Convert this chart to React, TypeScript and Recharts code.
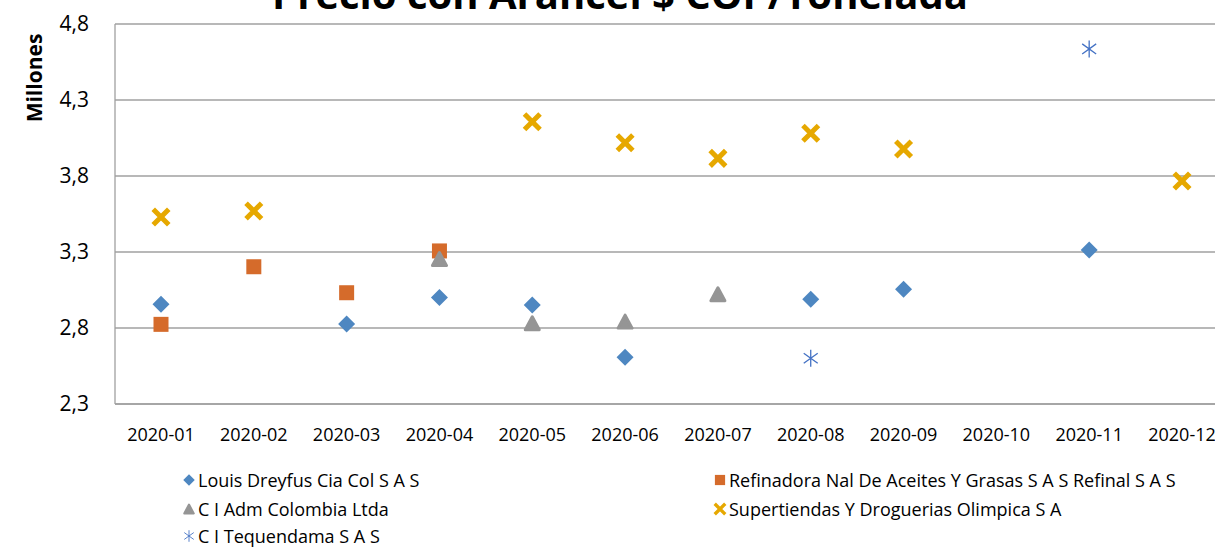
import React from 'react';
import { CartesianGrid, ComposedChart, Legend, Line, XAxis, YAxis } from 'recharts';

// valores en millones de COP por tonelada
const months = [
  '2020-01', '2020-02', '2020-03', '2020-04', '2020-05', '2020-06',
  '2020-07', '2020-08', '2020-09', '2020-10', '2020-11', '2020-12',
];
const louisDreyfus = [2.956, null, 2.826, 3.0, 2.951, 2.607, null, 2.989, 3.055, null, 3.313, null];
const refinal = [2.824, 3.203, 3.032, 3.307, null, null, null, null, null, null, null, null];
const ciAdm = [null, null, null, 3.254, 2.831, 2.842, 3.022, null, null, null, null, null];
const supertiendas = [3.53, 3.57, null, null, 4.157, 4.019, 3.916, 4.081, 3.978, null, null, 3.767];
const tequendama = [null, null, null, null, null, null, null, 2.601, null, null, 4.636, null];
const yTicks = [2.3, 2.8, 3.3, 3.8, 4.3, 4.8];

const data = months.map((month, i) => ({
  month,
  louis: louisDreyfus[i],
  refinal: refinal[i],
  adm: ciAdm[i],
  olimpica: supertiendas[i],
  tequendama: tequendama[i],
}));

const FONT = '"Open Sans", "Noto Sans", sans-serif';

type Kind = 'diamond' | 'square' | 'triangle' | 'cross' | 'star';

function Marker({ kind, cx, cy, s = 1 }: { kind: Kind; cx: number; cy: number; s?: number }) {
  if (kind === 'diamond') {
    const r = 8.5 * s;
    return <path d={`M${cx},${cy - r}L${cx + r},${cy}L${cx},${cy + r}L${cx - r},${cy}Z`} fill="#4E87C1" />;
  }
  if (kind === 'square') {
    const r = 7.5 * s;
    return <rect x={cx - r} y={cy - r} width={2 * r} height={2 * r} fill="#D56B2B" />;
  }
  if (kind === 'triangle') {
    const w = 7 * s;
    const h = 6.5 * s;
    return (
      <path
        d={`M${cx},${cy - h}L${cx + w},${cy + h}L${cx - w},${cy + h}Z`}
        fill="#959595"
        stroke="#959595"
        strokeWidth={3 * s}
        strokeLinejoin="round"
      />
    );
  }
  if (kind === 'cross') {
    const r = 6 * s;
    return (
      <path
        d={`M${cx - r},${cy - r}L${cx + r},${cy + r}M${cx + r},${cy - r}L${cx - r},${cy + r}`}
        stroke="#E6A800"
        strokeWidth={5 * s}
        strokeLinecap="square"
      />
    );
  }
  const r = 8.5 * s;
  const d = 7 * s;
  return (
    <path
      d={`M${cx},${cy - r}L${cx},${cy + r}M${cx - d},${cy - d * 0.72}L${cx + d},${cy + d * 0.72}M${cx + d},${cy - d * 0.72}L${cx - d},${cy + d * 0.72}`}
      stroke="#4472C4"
      strokeWidth={1.3 * s}
    />
  );
}

const dotFor = (kind: Kind) => (props: any) => {
  const { cx, cy, index, value } = props;
  if (value == null || cy == null || Number.isNaN(cy)) return <g key={`${kind}-${index}`} />;
  return (
    <g key={`${kind}-${index}`}>
      <Marker kind={kind} cx={cx} cy={cy} />
    </g>
  );
};

const legendItems: { kind: Kind; label: string; left: number; top: number }[] = [
  { kind: 'diamond', label: 'Louis Dreyfus Cia Col S A S', left: 182, top: 467 },
  { kind: 'square', label: 'Refinadora Nal De Aceites Y Grasas S A S Refinal S A S', left: 713, top: 467 },
  { kind: 'triangle', label: 'C I Adm Colombia Ltda', left: 182, top: 496 },
  { kind: 'cross', label: 'Supertiendas Y Droguerias Olimpica S A', left: 713, top: 496 },
  { kind: 'star', label: 'C I Tequendama S A S', left: 182, top: 523 },
];

function LegendContent() {
  return (
    <div style={{ position: 'relative', width: 1215, height: 90 }}>
      {legendItems.map((it) => (
        <div
          key={it.label}
          style={{
            position: 'absolute',
            left: it.left,
            top: it.top - 466,
            display: 'flex',
            alignItems: 'center',
            fontFamily: FONT,
            fontSize: 18,
            color: '#000',
            whiteSpace: 'nowrap',
            height: 26,
          }}
        >
          <svg width={14} height={14} style={{ marginRight: 2 }}>
            <Marker kind={it.kind} cx={7} cy={7} s={0.68} />
          </svg>
          {it.label}
        </div>
      ))}
    </div>
  );
}

export default function App() {
  return (
    <div style={{ position: 'absolute', left: 0, top: 0, width: 1215, height: 548, overflow: 'hidden', background: '#fff' }}>
      <ComposedChart
        width={1240}
        height={548}
        data={data}
        margin={{ top: 24, right: 12, bottom: 104, left: 0 }}
        style={{ fontFamily: FONT }}
      >
        <CartesianGrid vertical={false} stroke="#A0A0A0" strokeWidth={1.3} />
        <XAxis
          dataKey="month"
          type="category"
          height={40}
          padding={{ left: 46, right: 46 }}
          tickLine={false}
          tickSize={0}
          tickMargin={24}
          axisLine={{ stroke: '#A0A0A0', strokeWidth: 1.3 }}
          tick={{ fill: '#000', fontSize: 18 }}
          interval={0}
        />
        <YAxis
          type="number"
          domain={[2.3, 4.8]}
          ticks={yTicks}
          width={115}
          tickLine={false}
          tickSize={0}
          tickMargin={26}
          axisLine={{ stroke: '#A0A0A0', strokeWidth: 1.3 }}
          tick={{ fill: '#000', fontSize: 21 }}
          tickFormatter={(v: number) => v.toFixed(1).replace('.', ',')}
          allowDataOverflow
        />
        <Legend
          verticalAlign="middle"
          align="center"
          layout="horizontal"
          content={() => <LegendContent />}
          wrapperStyle={{ top: 466, left: 0, width: 1215, height: 82 }}
        />
        <Line dataKey="louis" name="Louis Dreyfus Cia Col S A S" stroke="none" dot={dotFor('diamond')} activeDot={false} isAnimationActive={false} />
        <Line dataKey="refinal" name="Refinadora Nal De Aceites Y Grasas S A S Refinal S A S" stroke="none" dot={dotFor('square')} activeDot={false} isAnimationActive={false} />
        <Line dataKey="adm" name="C I Adm Colombia Ltda" stroke="none" dot={dotFor('triangle')} activeDot={false} isAnimationActive={false} />
        <Line dataKey="olimpica" name="Supertiendas Y Droguerias Olimpica S A" stroke="none" dot={dotFor('cross')} activeDot={false} isAnimationActive={false} />
        <Line dataKey="tequendama" name="C I Tequendama S A S" stroke="none" dot={dotFor('star')} activeDot={false} isAnimationActive={false} />
      </ComposedChart>
      <div
        style={{
          position: 'absolute',
          left: 0,
          top: -26,
          width: 1240,
          textAlign: 'center',
          fontFamily: FONT,
          fontWeight: 700,
          fontSize: 40,
          lineHeight: '40px',
          whiteSpace: 'nowrap',
        }}
      >
        Precio con Arancel $ COP/Tonelada
      </div>
      <div
        style={{
          position: 'absolute',
          left: 34,
          top: 78,
          transform: 'translate(-50%, -50%) rotate(-90deg)',
          fontFamily: FONT,
          fontWeight: 700,
          fontSize: 21,
          whiteSpace: 'nowrap',
        }}
      >
        Millones
      </div>
    </div>
  );
}
